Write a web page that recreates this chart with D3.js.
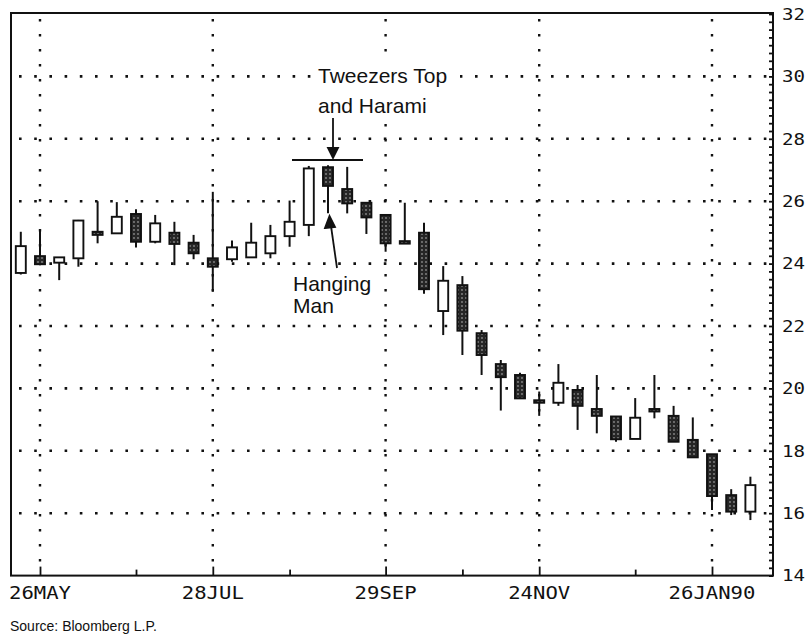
<!DOCTYPE html>
<html>
<head>
<meta charset="utf-8">
<script src="https://cdn.jsdelivr.net/npm/d3@7"></script>
<style>
  body { margin: 0; background: #fff; }
  svg { display: block; }
</style>
</head>
<body>
<svg id="chart" width="809" height="636"></svg>
<script>
// weekly candles, 19 May 1989 .. 9 Feb 1990
var weeks = ["1989-05-19","1989-05-26","1989-06-02","1989-06-09","1989-06-16","1989-06-23","1989-06-30",
  "1989-07-07","1989-07-14","1989-07-21","1989-07-28","1989-08-04","1989-08-11","1989-08-18","1989-08-25",
  "1989-09-01","1989-09-08","1989-09-15","1989-09-22","1989-09-29","1989-10-06","1989-10-13","1989-10-20",
  "1989-10-27","1989-11-03","1989-11-10","1989-11-17","1989-11-24","1989-12-01","1989-12-08","1989-12-15",
  "1989-12-22","1989-12-29","1990-01-05","1990-01-12","1990-01-19","1990-01-26","1990-02-02","1990-02-09"]
var open  = [23.70,24.24,24.03,24.17,25.02,24.97,25.59,24.70,24.99,24.67,24.17,24.14,24.20,24.33,24.88,
  25.24,27.09,26.39,25.95,25.56,24.72,24.99,22.48,23.31,21.77,20.78,20.43,19.62,19.54,19.95,19.34,
  19.10,18.38,19.34,19.12,18.35,17.89,16.58,16.05]
var high  = [25.02,25.05,24.20,25.40,26.00,25.97,25.74,25.56,25.34,24.92,26.30,24.74,25.31,25.24,26.02,
  27.13,27.15,27.10,25.95,25.56,25.95,25.31,23.92,23.60,21.87,20.91,20.50,19.90,20.78,20.11,20.43,
  19.10,19.69,20.43,19.44,19.07,17.89,16.77,17.17]
var low   = [23.65,23.95,23.47,23.90,24.65,24.97,24.52,24.65,23.95,24.14,23.10,24.06,24.18,24.17,24.54,
  24.88,25.61,25.61,24.95,24.38,24.66,23.03,21.71,21.07,20.43,19.29,19.68,19.12,19.44,18.67,18.56,
  18.29,18.38,19.04,18.29,17.79,16.10,15.94,15.78]
var close = [24.56,23.98,24.20,25.38,24.92,25.50,24.70,25.29,24.63,24.33,23.90,24.52,24.67,24.88,25.34,
  27.05,26.49,25.93,25.48,24.65,24.66,23.18,23.45,21.85,21.07,20.36,19.68,19.56,20.18,19.44,19.12,
  18.37,19.06,19.28,18.29,17.79,16.55,16.05,16.90]

var gridDates = ["1989-05-26","1989-07-28","1989-09-29","1989-11-24","1990-01-26"]
var gridLabels = ["26MAY","28JUL","29SEP","24NOV","26JAN90"]
var monthEnds = ["1989-06-30","1989-08-25","1989-10-27","1989-12-29"]
var yTicks = [14,16,18,20,22,24,26,28,30,32]

var parse = d3.utcParse("%Y-%m-%d")
var data = weeks.map((w, i) => ({date: parse(w), o: open[i], h: high[i], l: low[i], c: close[i]}))

// plot frame
var pL = 11, pR = 773, pT = 13, pB = 575.6

var x = d3.scaleUtc()
    .domain([parse("1989-05-26"), parse("1990-01-26")])
    .range([40, 712])
var y = d3.scaleLinear().domain([14, 32]).range([pB, pT + 1])

var svg = d3.select("#chart")
var tickFont = "'DejaVu Sans Mono', monospace"

var defs = svg.append("defs")
var pat = defs.append("pattern")
    .attr("id", "stip").attr("width", 4).attr("height", 4)
    .attr("patternUnits", "userSpaceOnUse")
pat.append("rect").attr("width", 4).attr("height", 4).attr("fill", "#262626")
pat.append("circle").attr("cx", 2).attr("cy", 2).attr("r", 0.9).attr("fill", "#8a8a8a")

// dotted grid
svg.append("g")
    .selectAll("line")
    .data(yTicks.filter(d => d > 14 && d < 32))
    .join("line")
    .attr("x1", pL + 8).attr("x2", pR - 4)
    .attr("y1", d => y(d)).attr("y2", d => y(d))
    .attr("stroke", "#111").attr("stroke-width", 2.6)
    .attr("stroke-dasharray", "2.6 12.6")

svg.append("g")
    .selectAll("line")
    .data(gridDates)
    .join("line")
    .attr("x1", d => x(parse(d))).attr("x2", d => x(parse(d)))
    .attr("y1", pT + 6).attr("y2", pB - 6)
    .attr("stroke", "#111").attr("stroke-width", 2.4)
    .attr("stroke-dasharray", "2.4 12.6")

// frame
svg.append("rect")
    .attr("x", pL).attr("y", pT)
    .attr("width", pR - pL).attr("height", pB - pT)
    .attr("fill", "none").attr("stroke", "#111").attr("stroke-width", 2)

// right axis, ticks pointing in
var yAxis = d3.axisLeft(y)
    .tickValues(d3.range(14, 32.01, 0.25))
    .tickSize(4).tickFormat("")
svg.append("g")
    .attr("transform", `translate(${pR},0)`)
    .call(yAxis)
    .call(g => g.select(".domain").remove())
    .call(g => g.selectAll("line").attr("stroke", "#111").attr("stroke-width", 1.8))

svg.append("g")
    .attr("font-family", tickFont).attr("font-size", 16)
    .selectAll("text")
    .data(yTicks)
    .join("text")
    .attr("x", pR + 9)
    .attr("y", d => y(d))
    .attr("dy", "0.36em")
    .attr("textLength", 23).attr("lengthAdjust", "spacingAndGlyphs")
    .attr("fill", "#111")
    .text(d => d)

// bottom ticks
var xAxis = d3.axisTop(x)
    .tickValues(gridDates.map(parse))
    .tickSize(9).tickFormat("")
svg.append("g")
    .attr("transform", `translate(0,${pB})`)
    .call(xAxis)
    .call(g => g.select(".domain").remove())
    .call(g => g.selectAll("line").attr("stroke", "#111").attr("stroke-width", 1.8))
svg.append("g")
    .attr("transform", `translate(0,${pB})`)
    .call(d3.axisTop(x).tickValues(monthEnds.map(parse)).tickSize(6).tickFormat(""))
    .call(g => g.select(".domain").remove())
    .call(g => g.selectAll("line").attr("stroke", "#111").attr("stroke-width", 1.8))

svg.append("g")
    .attr("font-family", tickFont).attr("font-size", 18)
    .selectAll("text")
    .data(gridDates)
    .join("text")
    .attr("x", d => x(parse(d)))
    .attr("y", 599)
    .attr("text-anchor", "middle")
    .attr("textLength", (d, i) => gridLabels[i].length * 12.4)
    .attr("lengthAdjust", "spacingAndGlyphs")
    .attr("fill", "#111")
    .text((d, i) => gridLabels[i])

// candles
var bw = 10
var candle = svg.append("g")
    .selectAll("g")
    .data(data)
    .join("g")
candle.append("line")
    .attr("x1", d => x(d.date)).attr("x2", d => x(d.date))
    .attr("y1", d => y(d.h)).attr("y2", d => y(d.l))
    .attr("stroke", "#111").attr("stroke-width", 2)
candle.append("rect")
    .attr("x", d => x(d.date) - bw / 2)
    .attr("width", bw)
    .attr("y", d => y(Math.max(d.o, d.c)))
    .attr("height", d => Math.max(2.5, y(Math.min(d.o, d.c)) - y(Math.max(d.o, d.c))))
    .attr("fill", d => d.c >= d.o ? "#fff" : "url(#stip)")
    .attr("stroke", "#111").attr("stroke-width", 1.9)

// annotations
var note = svg.append("g")
    .attr("font-family", "'Liberation Sans', Arial, sans-serif")
    .attr("font-size", 21).attr("fill", "#111")
note.append("rect")
    .attr("x", 312).attr("y", 60).attr("width", 148).attr("height", 60)
    .attr("fill", "#fff")
note.append("text").attr("x", 318).attr("y", 83).text("Tweezers Top")
note.append("text").attr("x", 318).attr("y", 113).text("and Harami")
note.append("text").attr("x", 293).attr("y", 291).text("Hanging")
note.append("text").attr("x", 293).attr("y", 313).text("Man")

var arrow = svg.append("g").attr("stroke", "#111").attr("stroke-width", 1.8)
arrow.append("line").attr("x1", 292).attr("x2", 363).attr("y1", 160).attr("y2", 160)
arrow.append("line").attr("x1", 333).attr("x2", 333).attr("y1", 118).attr("y2", 150)
arrow.append("path").attr("d", "M328,148 L338,148 L333,158 Z").attr("fill", "#111")
arrow.append("line").attr("x1", 337).attr("x2", 331).attr("y1", 268).attr("y2", 226)
arrow.append("path").attr("d", "M325,228 L335,227 L329.5,216 Z").attr("fill", "#111")

svg.append("text")
    .attr("x", 10).attr("y", 631)
    .attr("font-family", "'Liberation Sans', Arial, sans-serif")
    .attr("font-size", 14).attr("fill", "#111")
    .text("Source: Bloomberg L.P.")
</script>
</body>
</html>
